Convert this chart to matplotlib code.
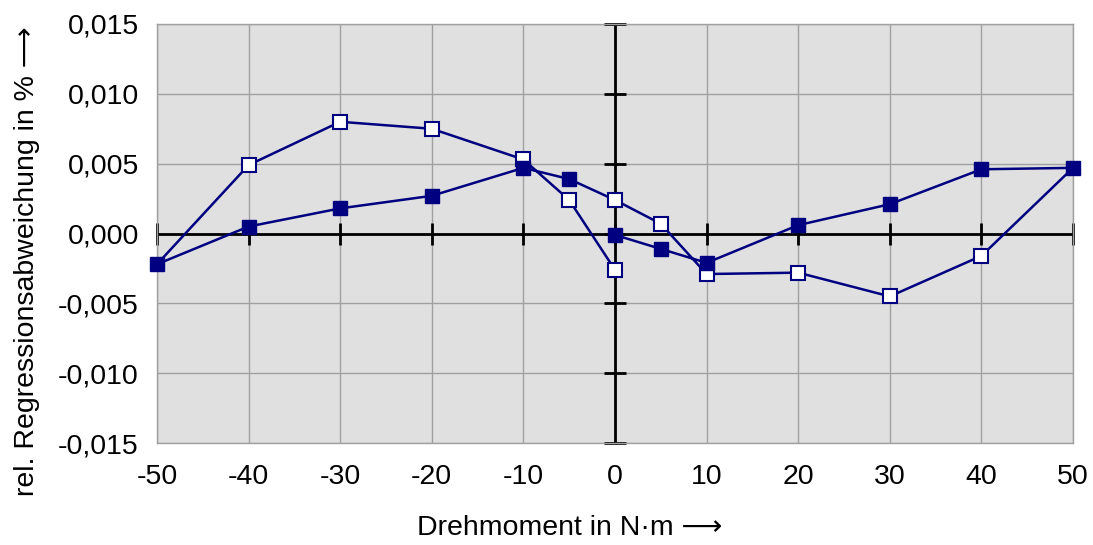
import matplotlib
matplotlib.use('Agg')
from matplotlib import pyplot as plt

plt.rcParams['font.family'] = ['Liberation Sans', 'DejaVu Sans']

# torque path 0 -> 50 -> 0 -> -50 -> 0
up_pos_x = [0, 5, 10, 20, 30, 40, 50]
up_pos_y = [-0.0001, -0.0011, -0.0021, 0.0006, 0.0021, 0.0046, 0.0047]
down_pos_x = [50, 40, 30, 20, 10, 5, 0]
down_pos_y = [0.0047, -0.0016, -0.0045, -0.0028, -0.0029, 0.0007, 0.0024]
up_neg_x = [0, -5, -10, -20, -30, -40, -50]
up_neg_y = [0.0024, 0.0039, 0.0047, 0.0027, 0.0018, 0.0005, -0.0022]
down_neg_x = [-50, -40, -30, -20, -10, -5, 0]
down_neg_y = [-0.0022, 0.0049, 0.0080, 0.0075, 0.0053, 0.0024, -0.0026]

x_ticks = [-50, -40, -30, -20, -10, 0, 10, 20, 30, 40, 50]
y_ticks = [-0.015, -0.010, -0.005, 0.0, 0.005, 0.010, 0.015]
y_labels = ['-0,015', '-0,010', '-0,005', '0,000', '0,005', '0,010', '0,015']

navy = '#000080'
fs = 20.5

fig = plt.figure(figsize=(10.93, 5.45), dpi=100)
ax = fig.add_axes([0.1436, 0.187, 0.8381, 0.769])
ax.set_facecolor('#e0e0e0')

ax.set_xlim(-50, 50)
ax.set_ylim(-0.015, 0.015)
ax.set_xticks(x_ticks)
ax.set_xticklabels([str(v) for v in x_ticks])
ax.set_yticks(y_ticks)
ax.set_yticklabels(y_labels)
ax.tick_params(length=0, labelsize=fs)
ax.tick_params(axis='x', pad=15)
ax.tick_params(axis='y', pad=13)
ax.grid(True, color='#a0a0a0', linewidth=1)
ax.set_axisbelow(True)
for s in ax.spines.values():
    s.set_color('#a0a0a0')
    s.set_linewidth(1)

# crossing axes with tick marks
ax.axhline(0, color='black', linewidth=2, zorder=2)
ax.axvline(0, color='black', linewidth=2, zorder=2)
ax.plot(x_ticks, [0] * len(x_ticks), linestyle='none', marker='|', markersize=16,
        markeredgewidth=2, color='black', zorder=2, clip_on=False)
ax.plot([0] * len(y_ticks), y_ticks, linestyle='none', marker='_', markersize=16,
        markeredgewidth=2, color='black', zorder=2, clip_on=False)

# connecting line
path_x = up_pos_x + down_pos_x[1:] + up_neg_x[1:] + down_neg_x[1:]
path_y = up_pos_y + down_pos_y[1:] + up_neg_y[1:] + down_neg_y[1:]
ax.plot(path_x, path_y, color=navy, linewidth=1.8, zorder=3)

# open markers (decreasing load)
ax.plot(down_pos_x[1:], down_pos_y[1:], linestyle='none', marker='s', markersize=10,
        markerfacecolor='white', markeredgecolor=navy, markeredgewidth=1.5, zorder=4)
ax.plot(down_neg_x[1:], down_neg_y[1:], linestyle='none', marker='s', markersize=10,
        markerfacecolor='white', markeredgecolor=navy, markeredgewidth=1.5, zorder=4)
# filled markers (increasing load)
ax.plot(up_pos_x, up_pos_y, linestyle='none', marker='s', markersize=10,
        color=navy, zorder=5, clip_on=False)
ax.plot(up_neg_x[1:], up_neg_y[1:], linestyle='none', marker='s', markersize=10,
        color=navy, zorder=5, clip_on=False)

fig.text(0.5215, 0.018, 'Drehmoment in N·m ⟶', fontsize=fs, ha='center', va='baseline')
fig.text(0.025, 0.521, 'rel. Regressionsabweichung in % ⟶', fontsize=fs,
         rotation=90, ha='center', va='center')

fig.savefig('out.png', dpi=100)
